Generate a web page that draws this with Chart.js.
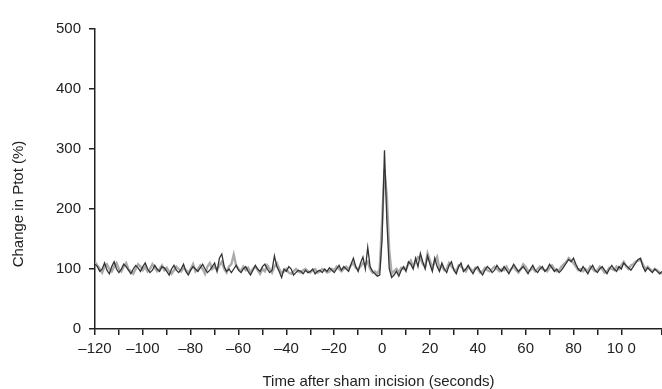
<!DOCTYPE html>
<html>
<head>
<meta charset="utf-8">
<script src="https://cdn.jsdelivr.net/npm/chart.js@4.4.1/dist/chart.umd.min.js"></script>
<style>
  html, body { margin: 0; padding: 0; background: #fff; }
  #wrap { width: 662px; height: 389px; }
</style>
</head>
<body>
<div id="wrap"><canvas id="ptotChart" width="662" height="389"></canvas></div>
<script>
// time axis in seconds, one sample per second
const startTime = -120;

// dark trace
const darkValues = [
  108, 104, 96, 100, 110, 98, 92, 104, 112, 100,
  94, 100, 108, 104, 98, 92, 100, 106, 102, 96,
  104, 110, 100, 94, 98, 106, 100, 96, 104, 102,
  96, 90, 100, 106, 98, 94, 100, 108, 96, 90,
  98, 104, 100, 96, 102, 108, 100, 94, 98, 104,
  110, 96, 118, 125, 104, 96, 100, 94, 100, 106,
  98, 94, 100, 104, 96, 90, 98, 106, 100, 96,
  104, 108, 100, 94, 98, 122, 104, 96, 86, 100,
  96, 104, 100, 90, 94, 98, 96, 92, 98, 94,
  96, 100, 92, 96, 98, 94, 100, 96, 102, 98,
  94, 100, 106, 98, 104, 100, 96, 108, 118, 104,
  96, 110, 120, 100, 136, 104, 96, 92, 88, 90,
  150, 298, 180, 100, 86, 90, 96, 88, 98, 104,
  96, 112, 108, 100, 118, 104, 126, 112, 100, 122,
  108, 96, 118, 104, 96, 110, 100, 94, 106, 112,
  98, 92, 104, 110, 96, 100, 106, 98, 92, 100,
  104, 96, 90, 98, 104, 100, 94, 98, 106, 100,
  96, 104, 98, 92, 100, 108, 102, 96, 100, 104,
  98, 92, 100, 106, 98, 94, 100, 104, 96, 100,
  108, 102, 96, 100, 94, 98, 104, 110, 116, 112,
  118, 108, 100, 96, 104, 98, 92, 100, 106, 98,
  94, 100, 104, 98, 92, 100, 106, 100, 96, 104,
  100, 110, 106, 102, 98, 104, 110, 116, 118, 104,
  96, 102, 98, 94, 100, 96, 92, 96
];

// light trace
const lightValues = [
  112, 106, 100, 94, 104, 108, 100, 96, 104, 110,
  100, 96, 104, 110, 100, 96, 92, 100, 108, 104,
  98, 104, 96, 100, 108, 102, 96, 100, 106, 98,
  102, 96, 92, 98, 104, 100, 96, 102, 98, 94,
  100, 108, 96, 100, 106, 100, 92, 104, 110, 100,
  104, 98, 106, 112, 100, 94, 104, 108, 124, 106,
  100, 96, 104, 98, 102, 94, 100, 104, 98, 92,
  100, 96, 106, 100, 94, 104, 110, 100, 94, 96,
  100, 94, 92, 96, 100, 96, 94, 98, 100, 96,
  94, 98, 100, 94, 96, 100, 98, 94, 96, 100,
  98, 104, 100, 96, 100, 104, 100, 106, 110, 102,
  100, 104, 110, 108, 112, 100, 94, 96, 92, 100,
  180, 265, 220, 130, 92, 96, 100, 94, 102, 100,
  100, 108, 114, 104, 112, 120, 118, 108, 104, 126,
  114, 102, 112, 120, 100, 106, 98, 100, 110, 104,
  100, 96, 106, 104, 100, 96, 104, 100, 96, 102,
  100, 94, 96, 102, 98, 96, 100, 104, 100, 96,
  100, 98, 104, 96, 100, 104, 98, 94, 100, 108,
  104, 96, 98, 102, 96, 100, 104, 100, 98, 96,
  102, 106, 100, 96, 98, 104, 108, 112, 118, 114,
  110, 104, 98, 100, 96, 100, 96, 104, 100, 96,
  98, 104, 100, 94, 96, 102, 100, 98, 104, 100,
  106, 112, 104, 100, 106, 108, 112, 114, 116, 108,
  100, 104, 100, 96, 100, 98, 94, 92
];

const xLabels = { '-120': '\u2013120', '-100': '\u2013100', '-80': '\u201380', '-60': '\u201360',
  '-40': '\u201340', '-20': '\u201320', '0': '0', '20': '20', '40': '40', '60': '60', '80': '80', '100': '10 0' };

const toPoints = (arr) => arr.map((v, i) => ({ x: startTime + i, y: v }));

const fontFamily = '"Liberation Sans", Arial, sans-serif';

// y title sits lower than the axis centre in the original
const yTitlePlugin = {
  id: 'yTitle',
  afterDraw(chart) {
    const c = chart.ctx;
    c.save();
    c.translate(19, 204);
    c.rotate(-Math.PI / 2);
    c.font = '15px ' + fontFamily;
    c.fillStyle = '#222';
    c.textAlign = 'center';
    c.textBaseline = 'middle';
    c.fillText('Change in Ptot (%)', 0, 0);
    c.restore();
  }
};

const ctx = document.getElementById('ptotChart').getContext('2d');
new Chart(ctx, {
  type: 'line',
  data: {
    datasets: [
      {
        data: toPoints(darkValues),
        borderColor: '#333333',
        borderWidth: 1.3,
        pointRadius: 0,
        tension: 0
      },
      {
        data: toPoints(lightValues),
        borderColor: '#ababab',
        borderWidth: 2.4,
        pointRadius: 0,
        tension: 0
      }
    ]
  },
  options: {
    responsive: false,
    animation: false,
    layout: { padding: { top: 29, right: 0, left: 0, bottom: 0 } },
    plugins: { legend: { display: false }, tooltip: { enabled: false } },
    scales: {
      x: {
        type: 'linear',
        min: -120,
        max: 117,
        afterFit: (s) => { s.height = 60; s.paddingRight = 0; },
        border: { display: true, color: '#222', width: 1.5 },
        grid: { display: true, drawOnChartArea: false, drawTicks: true, tickLength: 6, color: '#222', lineWidth: 1.5 },
        ticks: {
          stepSize: 10,
          autoSkip: false,
          maxRotation: 0,
          padding: 5,
          color: '#222',
          font: { family: fontFamily, size: 15 },
          callback: (v) => xLabels[String(v)] ?? ''
        },
        title: {
          display: true,
          text: 'Time after sham incision (seconds)',
          color: '#222',
          padding: { top: 0, bottom: -2 },
          font: { family: fontFamily, size: 15 }
        }
      },
      y: {
        min: 0,
        max: 500,
        afterFit: (s) => { s.width = 95; },
        border: { display: true, color: '#222', width: 1.5 },
        grid: { display: true, drawOnChartArea: false, drawTicks: true, tickLength: 6, color: '#222', lineWidth: 1.5 },
        ticks: {
          stepSize: 100,
          padding: 8,
          color: '#222',
          font: { family: fontFamily, size: 15 }
        }
      }
    }
  },
  plugins: [yTitlePlugin]
});
</script>
</body>
</html>
